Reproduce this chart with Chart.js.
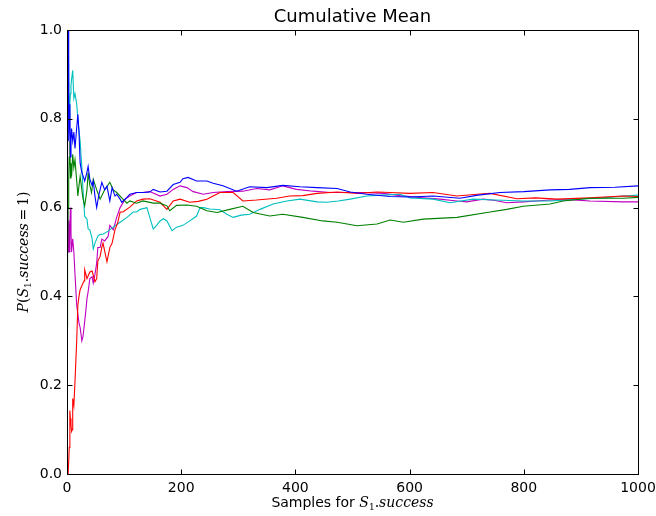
<!DOCTYPE html>
<html>
<head>
<meta charset="utf-8">
<script src="https://cdn.jsdelivr.net/npm/chart.js@4.4.1/dist/chart.umd.min.js"></script>
<style>
html,body{margin:0;padding:0;background:#fff;}
#wrap{width:656px;height:516px;position:relative;}
</style>
</head>
<body>
<div id="wrap"><canvas id="c" width="656" height="516"></canvas></div>
<script>
/* ================= DATA ================= */
const xTicks=[0,200,400,600,800,1000];
const yTicks=[0,0.2,0.4,0.6,0.8,1.0];

const blueX=[0,1,2,3,4,5,6,7,8,10,12,14,17,19,21,23,26,28,31,35,37,40,44,46,49,52,56,61,66,70,75,79,84,87,93,96,105,110,122,133,145,151,163,175,186,198,203,212,227,245,256,273,297,320,350,378,408,438,473,496,525,566,600,641,688,720,758,800,846,880,916,960,1000];
const blueY=[1,1,1,0.75,0.8,0.833,0.714,0.75,0.778,0.75,0.77,0.733,0.78,0.81,0.77,0.70,0.679,0.672,0.66,0.68,0.693,0.664,0.65,0.66,0.626,0.60,0.63,0.657,0.64,0.648,0.615,0.645,0.626,0.63,0.619,0.612,0.623,0.63,0.634,0.634,0.635,0.641,0.635,0.637,0.652,0.657,0.665,0.668,0.66,0.66,0.655,0.649,0.637,0.647,0.645,0.65,0.647,0.645,0.643,0.635,0.63,0.625,0.624,0.626,0.621,0.628,0.634,0.636,0.64,0.641,0.645,0.646,0.649];

const greenX=[0,1,2,3,4,5,6,7,8,10,12,14,17,19,21,23,26,28,31,35,37,40,43,46,52,58,66,75,81,87,98,105,110,122,133,151,163,175,180,192,210,227,245,263,285,308,326,355,378,413,448,473,508,543,566,589,624,683,741,770,799,846,869,916,974,1000];
const greenY=[0.333,0.5,0.6,0.667,0.714,0.75,0.667,0.7,0.67,0.72,0.69,0.708,0.66,0.626,0.65,0.67,0.64,0.62,0.604,0.64,0.679,0.65,0.634,0.664,0.64,0.619,0.64,0.657,0.64,0.634,0.619,0.61,0.615,0.61,0.615,0.61,0.61,0.604,0.593,0.605,0.606,0.603,0.593,0.589,0.596,0.603,0.589,0.581,0.585,0.578,0.570,0.567,0.559,0.563,0.572,0.567,0.574,0.578,0.59,0.596,0.603,0.608,0.615,0.621,0.621,0.623];

const redX=[0,1,2,3,4,5,6,7,8,9,10,12,14,17,19,21,23,26,30,31,35,40,44,49,52,54,58,61,63,70,75,79,84,89,93,98,110,122,133,145,163,175,186,198,215,230,245,256,268,291,308,332,367,390,413,438,473,508,543,566,600,641,683,718,741,788,820,858,916,974,1000];
const redY=[0,0,0,0,0.06,0.143,0.125,0.11,0.096,0.1,0.17,0.154,0.208,0.30,0.38,0.40,0.415,0.424,0.435,0.46,0.44,0.455,0.457,0.433,0.44,0.48,0.49,0.511,0.52,0.478,0.51,0.52,0.55,0.567,0.59,0.59,0.601,0.615,0.619,0.62,0.612,0.596,0.615,0.619,0.612,0.614,0.619,0.626,0.634,0.634,0.615,0.617,0.621,0.626,0.627,0.632,0.635,0.632,0.635,0.634,0.632,0.634,0.626,0.63,0.632,0.620,0.622,0.619,0.622,0.626,0.625];

const cyanX=[0,1,2,3,4,5,6,7,8,10,12,14,17,19,21,23,26,28,31,35,37,40,44,46,49,54,58,63,72,81,93,105,116,122,128,140,145,151,157,163,169,175,184,192,203,215,227,233,239,250,268,280,291,305,320,338,361,385,408,438,455,475,496,525,550,583,601,641,671,711,750,799,846,893,939,974,1000];
const cyanY=[1,1,1,1,0.8,0.833,0.857,0.875,0.889,0.909,0.846,0.857,0.833,0.80,0.773,0.75,0.69,0.64,0.58,0.574,0.552,0.55,0.53,0.507,0.52,0.536,0.54,0.54,0.547,0.556,0.567,0.578,0.59,0.59,0.596,0.60,0.578,0.552,0.56,0.57,0.575,0.57,0.548,0.556,0.56,0.57,0.581,0.60,0.60,0.597,0.595,0.585,0.578,0.583,0.585,0.596,0.608,0.615,0.619,0.613,0.612,0.615,0.619,0.626,0.628,0.630,0.622,0.619,0.611,0.619,0.617,0.615,0.615,0.619,0.622,0.626,0.628];

const magX=[0,1,2,3,4,5,6,7,8,10,12,14,17,19,21,23,26,28,30,33,35,37,40,44,46,49,52,54,58,61,66,72,75,81,87,93,102,110,122,133,145,163,175,186,198,210,221,239,256,280,308,332,355,378,402,431,461,490,519,554,583,624,653,683,700,729,750,770,799,846,880,916,974,1000];
const magY=[0.75,0.6,0.5,0.571,0.5,0.556,0.6,0.545,0.5,0.53,0.5,0.45,0.38,0.36,0.34,0.33,0.30,0.31,0.332,0.368,0.395,0.41,0.44,0.444,0.43,0.45,0.475,0.51,0.51,0.529,0.525,0.535,0.56,0.55,0.578,0.60,0.619,0.626,0.634,0.634,0.636,0.626,0.63,0.641,0.649,0.645,0.636,0.63,0.634,0.636,0.637,0.643,0.64,0.649,0.641,0.637,0.634,0.634,0.634,0.632,0.627,0.622,0.619,0.615,0.613,0.619,0.616,0.611,0.613,0.617,0.618,0.615,0.613,0.613];

/* ================= SERIES ================= */
const series=[
{x:blueX,y:blueY,color:"#0000ff"},
{x:greenX,y:greenY,color:"#008000"},
{x:redX,y:redY,color:"#ff0000"},
{x:cyanX,y:cyanY,color:"#00bfbf"},
{x:magX,y:magY,color:"#bf00bf"}
];

const datasets=series.map(s=>({
data:s.x.map((v,i)=>({x:v,y:s.y[i]})),
borderColor:s.color,
borderWidth:1.1,
pointRadius:0,
tension:0,
fill:false
}));

/* ================= FRAME + TICKS (matplotlib style, inward) ================= */
const framePlugin={
id:"frame",
afterDatasetsDraw(chart){
const c=chart.ctx,a=chart.chartArea,xs=chart.scales.x,ys=chart.scales.y;
c.save();
c.strokeStyle="#000";
c.lineWidth=1;
const L=Math.round(a.left)+0.5,R=Math.round(a.right)+0.5,T=Math.round(a.top)+0.5,B=Math.round(a.bottom)+0.5;
c.beginPath();
xTicks.forEach(v=>{
const p=Math.round(xs.getPixelForValue(v))+0.5;
c.moveTo(p,B);c.lineTo(p,B-5);
c.moveTo(p,T);c.lineTo(p,T+5);
});
yTicks.forEach(v=>{
const p=Math.round(ys.getPixelForValue(v))+0.5;
c.moveTo(L,p);c.lineTo(L+5,p);
c.moveTo(R,p);c.lineTo(R-5,p);
});
c.stroke();
c.strokeRect(L,T,R-L,B-T);
c.restore();
}
};

/* ================= TITLE + AXIS LABELS ================= */
function mixed(c,parts,x,y){
// parts: [text,font,dy]; drawn centered on x
let w=0;
parts.forEach(p=>{c.font=p[1];w+=c.measureText(p[0]).width;});
let cx=x-w/2;
parts.forEach(p=>{
c.font=p[1];
c.fillText(p[0],cx,y+(p[2]||0));
cx+=c.measureText(p[0]).width;
});
}

const labelPlugin={
id:"labels",
afterDraw(chart){
const c=chart.ctx,a=chart.chartArea;
const mid=(a.left+a.right)/2;
c.save();
c.fillStyle="#000";
c.textBaseline="alphabetic";
c.textAlign="left";
mixed(c,[["Cumulative Mean","18px 'DejaVu Sans'"]],mid,22);

const it="italic 14px 'DejaVu Serif'",sub="9px 'DejaVu Serif'",rm="14px 'DejaVu Sans'",rs="14px 'DejaVu Serif'";
mixed(c,[["Samples for ",rm],["S",it],["1",sub,3],[".",rs],["success",it]],mid,507);

c.translate(28,(a.top+a.bottom)/2);
c.rotate(-Math.PI/2);
mixed(c,[["P",it],["(",rs],["S",it],["1",sub,3],[".",rs],["success",it],["\u2009=\u2009",rs],["1",rs],[")",rs]],0,0);
c.restore();
}
};

/* ================= CHART ================= */
new Chart(document.getElementById("c"),{
type:"line",
data:{datasets},
options:{
responsive:false,
animation:false,
events:[],
layout:{padding:{left:0,right:18,top:30,bottom:0}},
plugins:{legend:{display:false},tooltip:{enabled:false},title:{display:false}},
scales:{
x:{
type:"linear",min:0,max:1000,
afterBuildTicks:s=>{s.ticks=xTicks.map(v=>({value:v}));},
afterFit:s=>{s.height=42;s.paddingLeft=0;s.paddingRight=0;},
grid:{display:false,drawTicks:false},
border:{display:false},
ticks:{color:"#000",padding:6,maxRotation:0,font:{family:"DejaVu Sans",size:14},callback:v=>String(v)}
},
y:{
type:"linear",min:0,max:1,
afterBuildTicks:s=>{s.ticks=yTicks.map(v=>({value:v}));},
afterFit:s=>{s.width=67;s.paddingTop=0;s.paddingBottom=0;},
grid:{display:false,drawTicks:false},
border:{display:false},
ticks:{color:"#000",padding:5,font:{family:"DejaVu Sans",size:14},callback:v=>Number(v).toFixed(1)}
}
}
},
plugins:[framePlugin,labelPlugin]
});
</script>
</body>
</html>
